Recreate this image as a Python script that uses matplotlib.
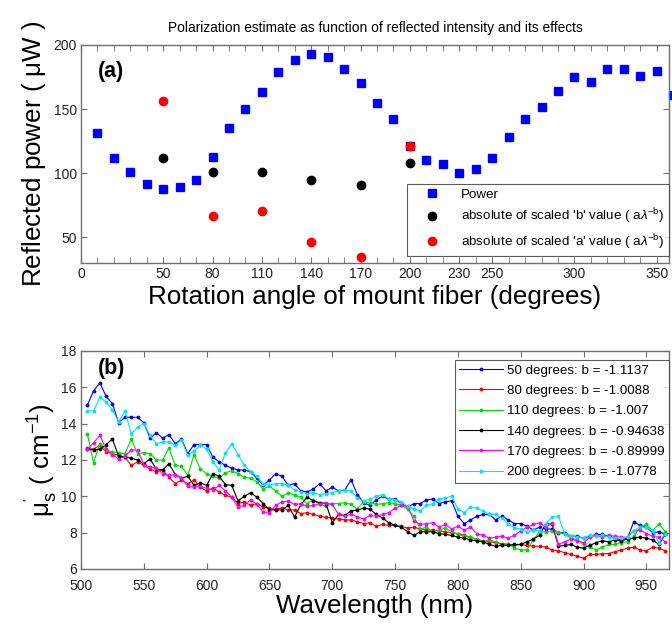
import numpy as np
import matplotlib
matplotlib.use("Agg")
import matplotlib.pyplot as plt

plt.rcParams['font.family'] = ['Liberation Sans', 'DejaVu Sans']
plt.rcParams['mathtext.fontset'] = 'custom'
plt.rcParams['mathtext.rm'] = 'Liberation Sans'
plt.rcParams['mathtext.it'] = 'Liberation Sans:italic'

# ---- panel (a) data ----
angles = [10, 20, 30, 40, 50, 60, 70, 80, 90, 100, 110, 120, 130, 140, 150, 160, 170, 180,
          190, 200, 210, 220, 230, 240, 250, 260, 270, 280, 290, 300, 310, 320, 330, 340,
          350, 360]
power = [131, 112, 101, 91.5, 87.5, 89, 95, 112.5, 135, 150, 163, 179, 188, 193, 190.5, 181,
         170, 155, 142, 121, 110.5, 107, 100.5, 103, 111.5, 128.5, 142.5, 152, 164, 175, 171,
         181, 181.5, 176, 180, 161]
fit_angles = [50, 80, 110, 140, 170, 200]
b_scaled = [111.5, 101.3, 100.8, 94.5, 90.5, 108]
a_scaled = [156, 67, 70.5, 46, 35, 121]
a_xticks = [0, 50, 80, 110, 140, 170, 200, 230, 250, 300, 350]

# ---- panel (b) data ----
wavelength = np.arange(505, 966, 5)
mus = {
    "50 degrees: b = -1.1137": [
        15.0, 15.8, 16.25, 15.5, 15.1, 14.05, 14.35, 14.35, 14.35, 14.05,
        13.2, 13.5, 13.2, 13.4, 12.9, 13.15, 12.35, 12.85, 12.85, 12.85,
        12.15, 11.9, 11.7, 11.55, 11.45, 11.45, 11.35, 11.0, 10.6, 10.9,
        11.25, 11.1, 10.6, 10.7, 10.3, 10.25, 10.4, 10.7, 10.3, 10.5,
        10.3, 10.35, 10.9, 10.1, 9.65, 9.5, 9.8, 10.0, 9.85, 9.85,
        9.6, 9.4, 9.6, 9.6, 9.8, 9.85, 9.6, 9.7, 9.75, 8.9,
        8.5, 8.7, 8.9, 9.0, 9.0, 8.7, 8.9, 8.7, 8.5, 8.5,
        8.35, 8.15, 8.3, 8.2, 8.2, 8.0, 8.0, 7.8, 7.8, 7.7,
        7.8, 7.9, 7.9, 7.8, 7.7, 7.6, 7.7, 8.6, 8.4, 8.3,
        8.0, 8.05, 7.9],
    "80 degrees: b = -1.0088": [
        12.65, 12.6, 12.8, 12.45, 12.35, 12.25, 12.15, 11.7, 11.9, 11.7,
        11.5, 11.35, 11.45, 11.05, 10.7, 10.9, 10.7, 10.9, 10.5, 10.3,
        10.45, 10.25, 10.05, 9.95, 9.6, 9.7, 9.5, 9.6, 9.4, 9.35,
        9.3, 9.35, 9.25, 9.25, 9.05, 9.1, 9.0, 8.9, 8.85, 8.8,
        8.75, 8.7, 8.7, 8.6, 8.5, 8.55, 8.35, 8.45, 8.4, 8.4,
        8.35, 8.25, 8.3, 8.2, 8.15, 8.15, 8.1, 8.05, 8.0, 7.95,
        7.85, 7.75, 7.6, 7.55, 7.5, 7.45, 7.4, 7.35, 7.3, 7.35,
        7.3, 7.25, 7.25, 7.2, 7.05, 7.0, 6.9, 6.8, 6.7, 6.6,
        6.8, 6.8, 6.85, 6.85, 6.95, 7.05, 7.15, 7.2, 7.05, 7.0,
        7.2, 7.15, 7.0],
    "110 degrees: b = -1.007": [
        13.45, 11.85, 12.9, 12.55, 12.45, 12.4, 12.35, 13.15, 12.35, 12.4,
        12.35, 12.0, 12.0, 12.65, 11.7, 11.65, 11.15, 12.3, 11.5, 11.25,
        11.1, 11.0, 11.3, 11.4, 11.25, 11.05, 11.0, 10.8, 10.4, 10.55,
        10.3, 10.0, 10.2, 10.05, 9.95, 9.6, 9.8, 9.55, 9.45, 9.6,
        9.6, 9.65, 9.55, 9.3, 9.7, 9.65, 9.55, 9.6, 9.65, 9.6,
        9.5, 9.3, 8.9, 8.2, 8.3, 8.05, 8.15, 8.25, 8.05, 7.9,
        7.8, 7.75, 7.65, 7.5, 7.6, 7.5, 7.3, 7.4, 7.15, 7.05,
        7.05, 7.6, 8.05, 8.05, 8.1, 8.05, 7.9, 7.7, 7.6, 7.35,
        7.2, 7.05, 7.2, 7.35, 7.35, 7.45, 7.5, 7.8, 8.3, 8.45,
        8.1, 8.5, 8.05],
    "140 degrees: b = -0.94638": [
        12.6, 12.55, 12.6, 12.85, 13.15, 12.2, 12.15, 12.1, 12.0, 11.8,
        12.05, 11.5, 11.45, 11.8, 11.2, 11.0, 11.1, 10.6, 10.75, 10.6,
        11.25, 11.1, 10.65, 10.6, 9.75, 10.0, 10.2, 9.95, 9.6, 9.25,
        9.25, 9.25, 9.5, 8.85, 9.55, 9.95, 9.75, 9.65, 9.6, 8.55,
        9.0, 8.95, 9.2, 9.25, 9.35, 9.3, 9.0, 8.8, 8.55, 8.4,
        8.3, 8.05, 7.85, 8.05, 8.05, 8.05, 7.95, 7.9, 7.85, 7.75,
        7.7, 7.6, 7.55, 7.5, 7.35, 7.25, 7.3, 7.3, 7.35, 7.35,
        7.5, 7.65, 7.85, 8.5, 8.45, 7.25, 7.3, 7.35, 7.2, 7.15,
        7.3, 7.45, 7.55, 7.5, 7.6, 7.55, 7.65, 7.7, 7.75, 7.7,
        7.6, 7.35, 7.9],
    "170 degrees: b = -0.89999": [
        12.6, 12.95, 13.35, 12.6, 12.3, 12.05, 12.2, 12.55, 12.55, 11.75,
        11.6, 11.55, 11.25, 11.15, 11.2, 11.0, 10.55, 10.5, 10.55, 10.45,
        10.35, 10.6, 10.3, 9.95, 9.4, 9.5, 9.8, 9.55, 9.15, 9.1,
        9.5, 9.7, 9.75, 9.55, 9.6, 9.45, 9.5, 9.6, 9.65, 9.55,
        9.0, 8.9, 9.05, 8.85, 8.75, 8.95, 8.9, 9.0, 9.1, 9.35,
        9.5, 9.45, 8.65, 8.45, 8.5, 8.55, 8.3, 8.45, 8.2, 8.35,
        8.15, 8.3, 7.95, 7.85, 7.7, 7.75, 7.8, 7.7, 7.85, 8.1,
        8.3, 8.45, 8.55, 8.3, 8.55, 7.35, 7.5, 7.65, 7.55, 7.45,
        7.75, 7.85, 7.75, 7.85, 7.8, 7.75, 7.75, 8.1, 8.15, 7.95,
        7.8, 7.75, 7.5],
    "200 degrees: b = -1.0778": [
        14.7, 14.7, 15.45, 15.2, 14.75, 14.1, 14.7, 13.45, 13.8, 14.0,
        13.35, 12.9, 13.0, 13.0, 12.8, 13.1, 12.25, 12.5, 12.8, 12.6,
        11.9, 11.45, 12.4, 12.9, 12.3, 11.7, 11.35, 11.1, 10.7, 10.65,
        10.7, 10.7, 10.6, 10.35, 10.25, 10.15, 10.2, 10.1, 10.15, 10.2,
        10.3, 10.35, 10.3, 9.9, 9.75, 9.85, 10.0, 10.1, 9.85, 9.8,
        9.7, 9.45, 9.3, 9.2, 9.5, 9.6, 9.85, 9.9, 10.0, 9.3,
        9.1, 9.4, 9.35, 9.2, 9.0, 9.0, 8.8, 8.5, 8.25, 8.2,
        8.05, 8.15, 8.1, 8.5, 8.85, 8.9, 7.95, 7.8, 7.75, 7.7,
        7.85, 7.8, 7.85, 7.75, 7.7, 7.7, 7.75, 8.1, 8.3, 8.3,
        8.1, 7.45, 7.95],
}
line_colors = ['#0000ff', '#ff0000', '#00dd00', '#000000', '#ff00ff', '#00e5ee']

frame = '#6f6f6f'

fig = plt.figure(figsize=(6.72, 6.29), dpi=100)
ax1 = fig.add_axes([0.1205, 0.5819, 0.875, 0.3466])
ax2 = fig.add_axes([0.1205, 0.0954, 0.875, 0.3466])

# ---- (a) ----
ax1.plot(angles, power, 's', color='#0000ff', ms=5.5, label='Power', clip_on=False)
ax1.plot(fit_angles, b_scaled, 'o', color='black', ms=6,
         label="absolute of scaled 'b' value ( a$\\lambda^{\\mathregular{-b}}$)")
ax1.plot(fit_angles, a_scaled, 'o', color='#ff0000', ms=6,
         label="absolute of scaled 'a' value ( a$\\lambda^{\\mathregular{-b}}$)")
ax1.set_xlim(0, 357.5)
ax1.set_ylim(30, 200)
ax1.set_xticks(a_xticks)
ax1.set_xticks(np.arange(10, 360, 10), minor=True)
ax1.set_yticks([50, 100, 150, 200])
ax1.set_title('Polarization estimate as function of reflected intensity and its effects',
              fontsize=9.9, pad=9)
ax1.set_xlabel('Rotation angle of mount fiber (degrees)', fontsize=18.7, labelpad=3)
ax1.set_ylabel('Reflected power ( $\\mathregular{\\mu}$W )', fontsize=18.7, labelpad=4)
ax1.text(0.029, 0.925, '(a)', transform=ax1.transAxes, fontsize=15.5, fontweight='bold',
         va='top')
leg1 = ax1.legend(loc='lower right', bbox_to_anchor=(1.0, 0.03), fontsize=9.6,
                  frameon=True, fancybox=False, edgecolor='#333333', handlelength=3.0,
                  handletextpad=0.7, borderpad=0.35, labelspacing=0.45, borderaxespad=0.0)
leg1.get_frame().set_linewidth(0.8)

# ---- (b) ----
for (name, vals), c in zip(mus.items(), line_colors):
    ax2.plot(wavelength, vals, '-', marker='.', color=c, lw=0.8, ms=3.5, label=name)
ax2.set_xlim(500, 968)
ax2.set_ylim(6, 18)
ax2.set_xticks(np.arange(500, 951, 50))
ax2.set_yticks(np.arange(6, 19, 2))
ax2.set_xlabel('Wavelength (nm)', fontsize=18.7, labelpad=1)
ax2.set_ylabel("$\\mathregular{\\mu_s^{'}}$ ( cm$^{\\mathregular{-1}}$)", fontsize=18.7, labelpad=2)
ax2.text(0.029, 0.968, '(b)', transform=ax2.transAxes, fontsize=15.5, fontweight='bold',
         va='top')
leg2 = ax2.legend(loc='upper right', bbox_to_anchor=(1.0, 0.96), fontsize=9.6,
                  frameon=True, fancybox=False, edgecolor='#333333', handlelength=3.3,
                  borderpad=0.35, labelspacing=0.6, handletextpad=0.25, borderaxespad=0.0)
leg2.get_frame().set_linewidth(0.8)

for ax in (ax1, ax2):
    for s in ax.spines.values():
        s.set_color(frame)
        s.set_linewidth(1.0)
    ax.tick_params(which='both', direction='in', top=True, right=True, length=4,
                   color=frame, labelsize=10, labelcolor='#222222', pad=3)
ax2.tick_params(axis='x', pad=7)

fig.savefig('out.png', dpi=100)
